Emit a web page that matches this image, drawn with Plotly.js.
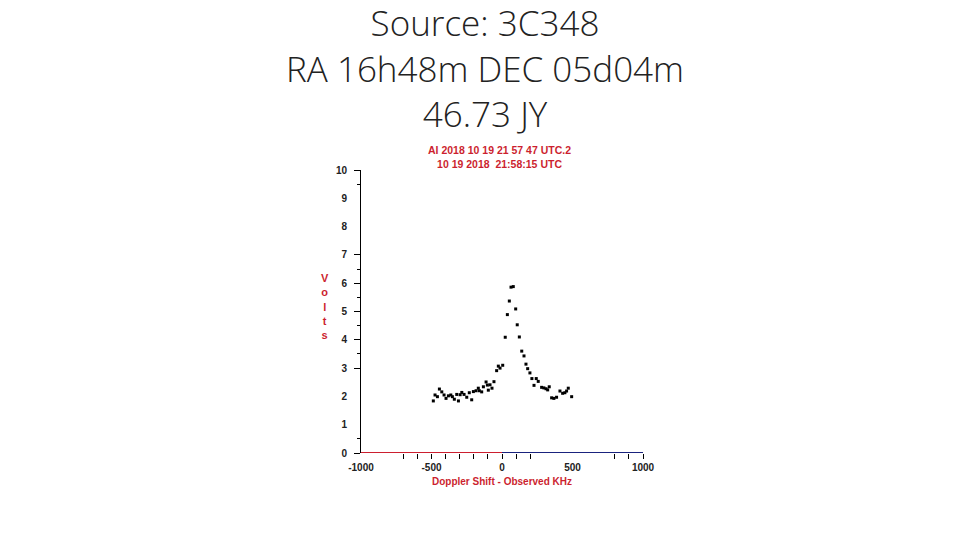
<!DOCTYPE html>
<html>
<head>
<meta charset="utf-8">
<script src="https://cdn.plot.ly/plotly-3.0.1.min.js"></script>
<style>html,body{margin:0;padding:0;background:#fff;}#chart{width:960px;height:540px;}</style>
</head>
<body>
<div id="chart"></div>
<script>
// Observed spectrum (Doppler shift in kHz, signal in volts)
const dopplerKHz = [-487,-475,-458,-444,-427,-411,-397,-380,-363,-352,-338,-321,-309,-297,-285,-269,-250,-232,-215,-203,-184,-168,-161,-144,-132,-113,-104,-97,-85,-71,-57,-38,-26,-14,5,23,38,52,64,80,97,108,123,140,156,170,182,198,212,227,243,257,281,297,312,324,335,352,368,387,411,430,446,458,470,494];
const volts = [1.84,2.05,1.99,2.26,2.16,2.05,1.93,2.02,2.05,1.99,1.90,2.07,1.84,2.06,2.14,2.07,1.97,2.13,1.88,2.17,2.20,2.29,2.20,2.16,2.34,2.51,2.40,2.22,2.41,2.29,2.52,2.91,3.07,3.00,3.10,4.09,4.89,5.37,5.86,5.88,5.09,4.53,4.10,3.60,3.43,3.14,2.98,2.83,2.63,2.39,2.63,2.53,2.32,2.30,2.27,2.23,2.34,1.95,1.93,1.97,2.19,2.11,2.13,2.19,2.29,1.99];

// Axis pieces
const xLabelVals = [-1000,-500,0,500,1000];
const xLabelText = ["-1000","-500","0","500","1000"];
const xTickVals = [-700,-600,-500,-400,-300,-200,-100,0,100,200,800,900,1000];
const yLabelVals = [0,1,2,3,4,5,6,7,8,9,10];
const yLabelText = ["0","1","2","3","4","5","6","7","8","9","10"];
const yMajorTicks = [0,3,4,5,6,7,10];
const yMinorTicks = [0.5,3.5,4.5,5.5,6.5,9.5];
const axisNegX = [-1000,0];
const axisPosX = [0,1000];
const axisY = [0,0];

const titleLines = ["Source: 3C348","RA 16h48m DEC 05d04m","46.73 JY"];
const headerLines = ["AI 2018 10 19 21 57 47 UTC.2","10 19 2018&nbsp;&nbsp;21:58:15 UTC"];
const xTitle = "Doppler Shift - Observed KHz";
const yTitle = "Volts";

const RED = "#cc1f2f";
const tickFont = {family:"Liberation Sans, Arial, sans-serif", size:10, color:"#222", weight:"bold"};

const traces = [
  {x: axisNegX, y: axisY, type:"scatter", mode:"lines", line:{color:RED, width:2}, xaxis:"x", yaxis:"y2", hoverinfo:"skip"},
  {x: axisPosX, y: axisY, type:"scatter", mode:"lines", line:{color:"#1a237e", width:2}, xaxis:"x", yaxis:"y2", hoverinfo:"skip"},
  {x: dopplerKHz, y: volts, type:"scatter", mode:"markers",
   marker:{symbol:"square", size:3, color:"#000", line:{width:0}}, xaxis:"x", yaxis:"y"}
];

const layout = {
  width:960, height:540,
  paper_bgcolor:"#fff", plot_bgcolor:"#fff",
  showlegend:false,
  margin:{l:361, r:317, t:170, b:87},
  xaxis:{
    range:[-1000,1000], fixedrange:true,
    showgrid:false, zeroline:false, showline:false,
    tickmode:"array", tickvals:xLabelVals, ticktext:xLabelText,
    ticks:"", ticklabelstandoff:7,
    tickfont:tickFont,
    minor:{tickmode:"array", tickvals:xTickVals, ticks:"outside", ticklen:5, tickcolor:"#000", tickwidth:1, showgrid:false},
    title:{text:xTitle, font:{family:"Liberation Sans, Arial, sans-serif", size:10, color:RED, weight:"bold"}, standoff:5}
  },
  yaxis:{
    range:[0,10], fixedrange:true,
    showgrid:false, zeroline:false,
    showline:true, linecolor:"#000", linewidth:1,
    tickmode:"array", tickvals:yLabelVals, ticktext:yLabelText,
    ticks:"", ticklabelstandoff:11,
    tickfont:tickFont
  },
  yaxis2:{
    range:[0,10], fixedrange:true, overlaying:"y", side:"left",
    showgrid:false, zeroline:false, showline:false,
    showticklabels:false,
    tickmode:"array", tickvals:yMajorTicks,
    ticks:"outside", ticklen:6, tickcolor:"#000", tickwidth:1,
    minor:{tickmode:"array", tickvals:yMinorTicks, ticks:"outside", ticklen:3, tickcolor:"#000", tickwidth:1, showgrid:false}
  },
  annotations:[
    {text: titleLines.join("<br>"), xref:"paper", yref:"paper", x:0.439, y:1.611, xanchor:"center", yanchor:"top",
     showarrow:false, align:"center",
     font:{family:"Open Sans, sans-serif", size:35, color:"#222", weight:300}},
    {text: headerLines.join("<br>"), xref:"paper", yref:"paper", x:0.49, y:1.0, xanchor:"center", yanchor:"bottom",
     showarrow:false, align:"center", yshift:-2,
     font:{family:"Liberation Sans, Arial, sans-serif", size:10.5, color:RED, weight:"bold"}},
    {text: yTitle.split("").join("<br>"), xref:"paper", yref:"paper", x:0, y:0.519, xanchor:"center", yanchor:"middle",
     xshift:-36, showarrow:false, align:"center",
     font:{family:"Liberation Sans, Arial, sans-serif", size:11, color:RED, weight:"bold"}}
  ]
};

Plotly.newPlot("chart", traces, layout, {staticPlot:true, displayModeBar:false});
</script>
</body>
</html>
